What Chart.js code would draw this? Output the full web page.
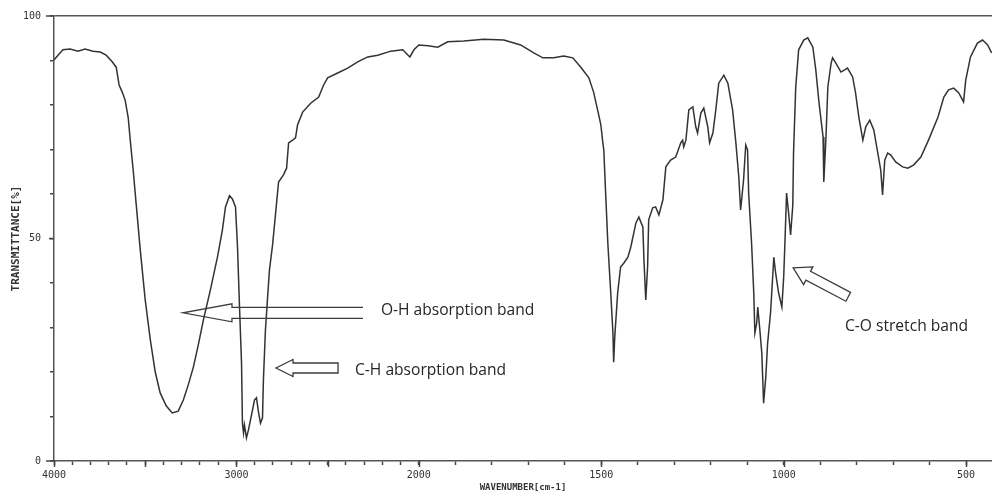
<!DOCTYPE html>
<html>
<head>
<meta charset="utf-8">
<script src="https://cdn.jsdelivr.net/npm/chart.js@4.4.1/dist/chart.umd.min.js"></script>
<style>
  html, body { margin: 0; padding: 0; background: #fff; }
  #box { width: 992px; height: 497px; position: relative; }
</style>
</head>
<body>
<div id="box"><canvas id="irChart"></canvas></div>
<script>
// IR spectrum (wavenumber in cm-1, transmittance in %)
const wavenumbers = [
  4000, 3978, 3951, 3912, 3868, 3830, 3786, 3747, 3714, 3681, 3659, 3643, 3626, 3610, 3593, 3582,
  3566, 3549, 3527, 3500, 3472, 3445, 3418, 3385, 3352, 3319, 3291, 3264, 3236, 3209, 3181, 3143,
  3104, 3077, 3060, 3038, 3022, 3005, 2994, 2983, 2972, 2967, 2961, 2956, 2945, 2934, 2923, 2901,
  2890, 2879, 2868, 2857, 2852, 2841, 2830, 2819, 2802, 2786, 2769, 2742, 2725, 2714, 2692, 2676,
  2665, 2637, 2593, 2549, 2522, 2500, 2445, 2390, 2335, 2280, 2225, 2154, 2088, 2071, 2049, 2027,
  2000, 1975, 1948, 1921, 1877, 1822, 1767, 1721, 1685, 1660, 1630, 1603, 1578, 1556, 1534, 1521,
  1507, 1501, 1496, 1493, 1488, 1482, 1474, 1468, 1466, 1463, 1455, 1447, 1438, 1427, 1419, 1405,
  1397, 1386, 1383, 1378, 1373, 1370, 1359, 1351, 1342, 1331, 1323, 1310, 1296, 1282, 1277, 1274,
  1268, 1260, 1249, 1241, 1236, 1227, 1219, 1208, 1203, 1194, 1186, 1178, 1164, 1153, 1140, 1131,
  1123, 1118, 1110, 1104, 1099, 1096, 1088, 1082, 1079, 1074, 1071, 1066, 1060, 1055, 1049, 1044,
  1036, 1027, 1022, 1014, 1005, 1000, 997, 992, 986, 981, 975, 973, 967, 959, 945, 934,
  920, 912, 903, 892, 890, 884, 879, 870, 866, 857, 843, 825, 811, 803, 794, 783,
  775, 764, 753, 742, 734, 729, 723, 715, 707, 693, 674, 660, 644, 624, 603, 577,
  561, 548, 534, 520, 507, 501, 488, 469, 455, 441, 430
];
const transmittance = [
  90.1, 91.2, 92.4, 92.6, 92.1, 92.6, 92.1, 91.9, 91.2, 89.7, 88.5, 84.5, 82.9, 81.1, 77.1, 72.1,
  65.4, 57.5, 47.4, 36.2, 27.2, 20.0, 15.3, 12.4, 10.8, 11.2, 13.7, 17.1, 21.1, 26.1, 31.7, 38.4,
  45.8, 51.9, 57.1, 59.6, 58.9, 57.1, 48.1, 34.6, 22.0, 8.5, 6.3, 8.1, 5.2, 7.0, 9.2, 13.7,
  14.2, 11.0, 8.5, 9.7, 18.2, 29.4, 36.2, 42.9, 48.5, 55.3, 62.7, 64.3, 65.8, 71.5, 72.1, 72.6,
  75.5, 78.4, 80.4, 81.8, 84.5, 86.1, 87.2, 88.3, 89.7, 90.8, 91.2, 92.1, 92.4, 91.7, 90.8, 92.4,
  93.5, 93.3, 93.0, 94.2, 94.4, 94.8, 94.6, 93.5, 91.7, 90.6, 90.6, 91.0, 90.6, 88.5, 86.1, 82.9,
  77.8, 75.5, 71.7, 69.9, 60.2, 49.0, 37.8, 28.8, 22.2, 27.9, 37.8, 43.6, 44.5, 45.8, 48.1, 53.5,
  54.8, 52.6, 45.2, 36.2, 43.6, 54.2, 56.9, 57.1, 55.3, 58.7, 66.1, 67.6, 68.3, 71.5, 72.1, 70.6,
  72.1, 78.9, 79.6, 75.1, 73.7, 78.2, 79.3, 75.1, 71.5, 73.7, 78.9, 84.9, 86.7, 84.9, 78.9, 71.5,
  63.8, 56.4, 63.1, 71.0, 69.9, 60.2, 49.0, 37.8, 28.8, 31.0, 34.6, 30.1, 24.3, 13.0, 18.9, 26.5,
  33.3, 45.8, 42.2, 37.8, 34.6, 41.3, 48.1, 60.2, 55.3, 50.8, 57.5, 69.2, 84.0, 92.4, 94.6, 95.1,
  93.0, 87.9, 80.4, 72.8, 62.7, 72.8, 84.0, 89.4, 90.6, 89.4, 87.4, 88.3, 86.3, 82.7, 77.3, 72.1,
  75.1, 76.6, 74.4, 69.2, 65.4, 59.8, 67.6, 69.2, 68.8, 67.2, 66.1, 65.8, 66.5, 68.3, 72.1, 77.3,
  81.8, 83.4, 83.8, 82.7, 80.7, 85.6, 90.8, 93.9, 94.6, 93.5, 91.7
];

const xTickLabels = [4000, 3000, 2000, 1500, 1000, 500];
const yTickLabels = [0, 50, 100];
const noteTexts = ['O-H absorption band', 'C-H absorption band', 'C-O stretch band'];

// where each note sits, in wavenumber / % units
const noteAnchors = [
  { text: [2208, 33.9], tail: [2306, 33.3], tip: [3293, 33.3], head: 49, headHalf: 9, shaft: 5.5, closed: false },
  { text: [2350, 20.4], tail: [2443, 20.9], tip: [2783, 20.9], head: 17, headHalf: 8.5, shaft: 5, closed: true },
  { text: [832, 30.3], tail: [823, 36.9], tip: [974, 43.4], head: 17, headHalf: 10, shaft: 5, closed: true }
];

// the spectrometer halves the scale above 2000 cm-1
function toAxis(w) {
  return w >= 2000 ? (4000 - w) / 2 : 1000 + (2000 - w);
}
function fromAxis(u) {
  return u <= 1000 ? 4000 - u * 2 : 2000 - (u - 1000);
}

let xTicks = [];
for (let w = 4000; w >= 500; w -= 100) xTicks.push(w);

const points = wavenumbers.map((w, i) => ({ x: toAxis(w), y: transmittance[i] }));

function drawArrow(ctx, x0, y0, x1, y1, a) {
  const len = Math.hypot(x1 - x0, y1 - y0);
  const dx = (x1 - x0) / len, dy = (y1 - y0) / len;
  const nx = -dy, ny = dx;
  const bx = x1 - dx * a.head, by = y1 - dy * a.head;
  ctx.beginPath();
  ctx.moveTo(x0 + nx * a.shaft, y0 + ny * a.shaft);
  ctx.lineTo(bx + nx * a.shaft, by + ny * a.shaft);
  ctx.lineTo(bx + nx * a.headHalf, by + ny * a.headHalf);
  ctx.lineTo(x1, y1);
  ctx.lineTo(bx - nx * a.headHalf, by - ny * a.headHalf);
  ctx.lineTo(bx - nx * a.shaft, by - ny * a.shaft);
  ctx.lineTo(x0 - nx * a.shaft, y0 - ny * a.shaft);
  if (a.closed) ctx.closePath();
  ctx.stroke();
}

const annotate = {
  id: 'annotate',
  afterDraw(chart) {
    const { ctx, scales: { x, y } } = chart;
    ctx.save();
    ctx.strokeStyle = '#444';
    ctx.lineWidth = 1.5;
    // longer marks for the main ticks
    xTicks.filter(w => w % 500 === 0).forEach(w => {
      const px = Math.round(x.getPixelForValue(toAxis(w))) + 0.5;
      ctx.beginPath();
      ctx.moveTo(px, y.bottom - 1);
      ctx.lineTo(px, y.bottom + 6);
      ctx.stroke();
    });
    yTickLabels.forEach(v => {
      const py = y.getPixelForValue(v);
      ctx.beginPath();
      ctx.moveTo(x.left - (v === 50 ? 5 : 8), py);
      ctx.lineTo(x.left, py);
      ctx.stroke();
    });

    ctx.strokeStyle = '#3c3c3c';
    ctx.lineWidth = 1.3;
    ctx.fillStyle = '#262626';
    ctx.font = '15.6px "Open Sans"';
    ctx.textAlign = 'left';
    ctx.textBaseline = 'middle';
    noteAnchors.forEach((a, i) => {
      drawArrow(ctx,
        x.getPixelForValue(toAxis(a.tail[0])), y.getPixelForValue(a.tail[1]),
        x.getPixelForValue(toAxis(a.tip[0])), y.getPixelForValue(a.tip[1]), a);
      ctx.fillText(noteTexts[i], x.getPixelForValue(toAxis(a.text[0])), y.getPixelForValue(a.text[1]));
    });
    ctx.restore();
  }
};

const ctx = document.getElementById('irChart').getContext('2d');
const irChart = new Chart(ctx, {
  type: 'line',
  data: {
    datasets: [{
      data: points,
      borderColor: '#333',
      borderWidth: 1.5,
      pointRadius: 0,
      tension: 0,
      fill: false
    }]
  },
  options: {
    responsive: true,
    maintainAspectRatio: false,
    animation: false,
    layout: { padding: { top: 16, right: 0, bottom: 0, left: 0 } },
    plugins: { legend: { display: false }, tooltip: { enabled: false } },
    scales: {
      x: {
        type: 'linear',
        min: 0,
        max: toAxis(429),
        afterBuildTicks: s => { s.ticks = xTicks.map(w => ({ value: toAxis(w) })); },
        afterFit: s => { s.height = 36; },
        ticks: {
          autoSkip: false,
          maxRotation: 0,
          padding: 4,
          color: '#333',
          font: { family: 'DejaVu Sans Mono', size: 10 },
          callback: v => {
            const w = Math.round(fromAxis(v));
            return xTickLabels.includes(w) ? String(w) : '';
          }
        },
        grid: { drawOnChartArea: false, tickLength: 4, tickColor: '#444', tickWidth: 1.5 },
        border: { color: '#555', width: 1.5 },
        title: {
          display: true,
          text: 'WAVENUMBER[cm-1]',
          color: '#333',
          font: { family: 'DejaVu Sans Mono', size: 9, weight: 'bold' },
          padding: { top: 0, bottom: 4 }
        }
      },
      y: {
        min: 0,
        max: 100,
        afterFit: s => { s.width = 54; },
        ticks: {
          stepSize: 10,
          padding: 9,
          color: '#333',
          font: { family: 'DejaVu Sans Mono', size: 10 },
          callback: v => yTickLabels.includes(v) ? String(v) : ''
        },
        grid: {
          tickLength: 4,
          tickColor: '#444',
          tickWidth: 1.5,
          lineWidth: 1.5,
          color: c => (c.tick && c.tick.value === 100) ? '#555' : 'rgba(0,0,0,0)'
        },
        border: { color: '#555', width: 1.5 },
        title: {
          display: true,
          text: 'TRANSMITTANCE[%]',
          color: '#333',
          font: { family: 'DejaVu Sans Mono', size: 11, weight: 'bold' },
          padding: { top: 10, bottom: 0 }
        }
      }
    }
  },
  plugins: [annotate]
});
</script>
</body>
</html>
